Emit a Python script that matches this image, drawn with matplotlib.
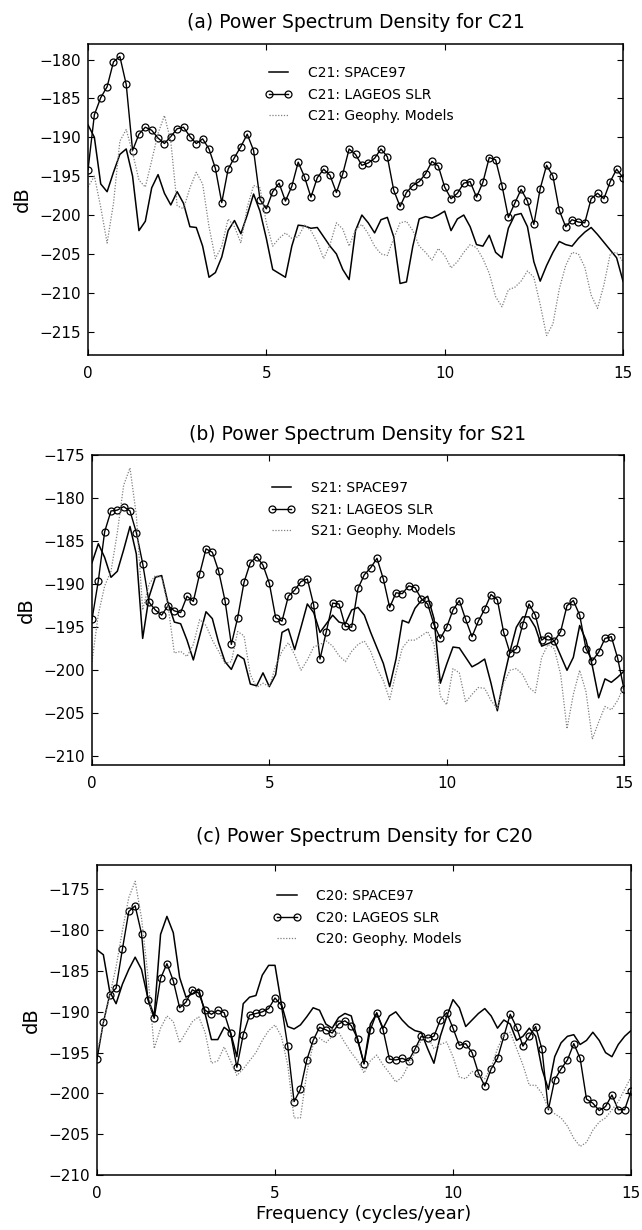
import numpy as np
import matplotlib.pyplot as plt

plt.rcParams['font.family'] = ['DejaVu Sans']

# frequency bins (cycles/year), evenly spaced from 0 to 15
freq = np.linspace(0, 15, 85)

# ---- (a) C21 ----
a_space97 = [-188.4, -190.0, -196.0, -197.0, -194.5, -192.2, -191.5, -195.0, -202.0, -200.8,
             -196.5, -194.8, -197.2, -198.7, -197.0, -198.5, -201.5, -201.6, -204.0, -208.0,
             -207.4, -205.4, -202.0, -200.7, -202.4, -200.0, -197.3, -199.5, -203.0, -207.0,
             -207.5, -208.0, -204.0, -201.3, -201.4, -201.7, -201.6, -202.8, -204.0, -205.0,
             -207.0, -208.3, -202.0, -200.0, -201.0, -202.3, -200.6, -200.3, -202.8, -208.8,
             -208.6, -204.0, -200.5, -200.2, -200.4, -200.0, -199.5, -202.0, -200.5, -200.0,
             -201.5, -203.8, -204.0, -202.6, -204.8, -205.5, -201.7, -200.0, -199.8, -201.5,
             -206.0, -208.5, -206.5, -204.8, -203.4, -203.8, -204.0, -203.0, -202.2, -201.6,
             -202.5, -203.5, -204.5, -205.5, -208.5]
a_lageos = [-194.2, -187.1, -184.9, -183.5, -180.3, -179.6, -183.2, -191.7, -189.6, -188.7,
            -189.1, -190.1, -190.8, -189.9, -188.9, -188.7, -189.9, -190.8, -190.2, -191.5,
            -194.0, -198.4, -194.1, -192.6, -191.2, -189.6, -191.7, -198.0, -199.2, -197.0,
            -195.9, -198.2, -196.3, -193.2, -195.1, -197.7, -195.2, -194.1, -194.9, -197.1,
            -194.7, -191.5, -192.2, -193.6, -193.3, -192.7, -191.5, -192.5, -196.8, -198.9,
            -197.1, -196.2, -195.7, -194.7, -193.1, -193.7, -196.4, -197.9, -197.2, -195.9,
            -195.7, -197.7, -195.8, -192.6, -192.9, -196.2, -200.3, -198.5, -196.7, -198.2,
            -201.2, -196.6, -193.6, -195.0, -199.4, -201.5, -200.6, -200.9, -201.0, -197.9,
            -197.2, -197.9, -195.7, -194.1, -195.2]
a_geophy = [-196.4, -195.0, -199.0, -203.6, -198.5, -190.5, -189.0, -192.0, -195.5, -196.4,
            -193.0, -189.5, -187.2, -190.5, -198.8, -199.2, -196.5, -194.5, -196.0, -201.5,
            -205.6, -204.0, -200.5, -201.5, -203.6, -199.0, -196.2, -196.5, -201.0, -204.0,
            -203.0, -202.3, -203.0, -202.8, -201.3, -202.0, -203.5, -205.6, -203.8, -201.0,
            -201.8, -204.0, -201.9, -201.2, -202.4, -204.0, -205.0, -205.2, -203.0, -201.0,
            -200.8, -202.0, -204.0, -204.8, -205.8, -204.3, -205.2, -206.8, -206.0, -204.8,
            -203.8, -204.2, -205.6, -207.5, -210.5, -211.8, -209.6, -209.3, -208.5, -207.2,
            -208.0, -211.5, -215.5, -214.0, -209.5, -206.5, -204.8, -205.0, -206.7, -210.3,
            -212.0, -209.0, -205.0, -204.8, -206.0]

# ---- (b) S21 ----
b_space97 = [-187.5, -185.3, -186.9, -189.2, -188.5, -186.0, -183.3, -186.5, -196.3, -191.5,
             -189.2, -189.0, -192.2, -194.4, -194.6, -196.5, -198.8, -196.0, -193.2, -194.0,
             -196.8, -199.0, -199.9, -198.2, -198.7, -201.6, -201.8, -200.3, -201.9, -200.5,
             -195.6, -195.2, -197.6, -195.0, -192.3, -193.3, -195.6, -194.6, -193.6, -194.4,
             -194.6, -193.0, -192.7, -193.6, -195.6, -197.4, -199.2, -201.9, -198.7, -194.2,
             -194.5, -192.8, -191.9, -191.4, -194.0, -201.5, -199.3, -197.3, -197.4, -198.5,
             -199.6, -199.2, -198.7, -201.5, -204.7, -201.0, -197.8, -195.0, -193.8, -193.8,
             -195.0, -197.2, -196.9, -196.6, -198.3, -200.0, -198.5, -194.8, -196.5, -199.5,
             -203.2, -201.0, -201.4, -200.8, -200.1]
b_lageos = [-194.1, -189.6, -183.9, -181.5, -181.4, -181.0, -181.5, -184.0, -187.6, -192.1,
            -193.0, -193.6, -192.5, -193.1, -193.3, -191.4, -192.0, -188.8, -185.9, -186.3,
            -188.5, -191.9, -197.0, -193.9, -189.8, -187.5, -186.8, -187.8, -189.9, -193.9,
            -194.3, -191.4, -190.7, -189.7, -189.4, -192.4, -198.7, -195.5, -192.2, -192.3,
            -194.9, -195.0, -190.5, -188.9, -188.1, -187.0, -189.4, -192.7, -191.0, -191.1,
            -190.2, -190.4, -191.7, -192.3, -194.7, -196.3, -195.0, -193.0, -191.9, -194.1,
            -196.1, -194.3, -192.9, -191.2, -191.8, -195.6, -198.0, -197.5, -194.7, -192.3,
            -193.6, -196.5, -196.0, -196.6, -195.5, -192.5, -191.9, -193.6, -197.5, -198.9,
            -197.9, -196.3, -196.1, -198.6, -202.2]
b_geophy = [-199.0, -193.5, -190.2, -188.5, -184.0, -178.5, -176.5, -182.0, -193.0, -190.0,
            -189.0, -189.2, -192.5, -198.0, -197.8, -198.4, -197.0, -194.1, -194.8, -196.5,
            -197.8, -199.2, -199.0, -195.5, -196.0, -200.5, -202.0, -201.5, -201.9, -199.5,
            -197.8, -196.8, -198.2, -200.0, -198.8, -197.3, -197.0, -196.6, -197.2, -198.3,
            -199.0, -197.8, -197.0, -196.6, -197.8, -199.8, -201.2, -203.4, -200.3, -197.4,
            -196.5, -196.5, -196.0, -195.5, -197.0, -203.0, -204.0, -199.8, -200.3, -203.7,
            -202.8, -202.0, -202.1, -203.5, -204.5, -201.5, -200.0, -199.8, -200.5, -202.0,
            -202.6, -198.5, -197.0, -197.5, -200.5, -206.8, -202.8, -200.0, -202.5, -208.0,
            -206.0, -204.2, -204.6, -203.5, -201.8]

# ---- (c) C20 ----
c_space97 = [-182.4, -183.0, -187.5, -189.0, -186.6, -184.8, -183.3, -184.8, -188.3, -190.5,
             -180.5, -178.3, -180.3, -185.8, -188.2, -187.8, -187.2, -190.2, -193.4, -193.4,
             -191.9, -192.5, -195.5, -189.0, -188.2, -188.0, -185.5, -184.3, -184.3, -189.0,
             -191.8, -192.1, -191.6, -190.6, -189.5, -189.8, -191.5, -192.0, -190.7, -190.2,
             -190.5, -193.5, -196.3, -191.5, -190.2, -192.0, -190.5, -190.0, -191.0, -191.8,
             -192.3, -192.5, -194.5, -196.3, -193.0, -190.6, -188.5, -189.5, -191.8, -191.0,
             -190.2, -189.6, -190.5, -192.0, -191.0, -191.5, -193.5, -193.0, -192.0, -193.0,
             -197.0, -199.5, -195.5, -193.8, -193.0, -192.8, -194.0, -193.5, -192.5, -193.5,
             -195.0, -195.5, -194.0, -193.0, -192.3]
c_lageos = [-195.8, -191.3, -187.9, -187.1, -182.3, -177.7, -177.0, -180.4, -188.5, -190.8,
            -185.9, -184.1, -186.2, -189.5, -188.8, -187.3, -187.7, -189.8, -190.3, -189.8,
            -190.1, -192.6, -196.8, -192.8, -190.4, -190.2, -190.0, -189.6, -188.3, -189.2,
            -194.2, -201.0, -199.5, -195.9, -193.5, -191.9, -192.2, -192.6, -191.5, -191.1,
            -191.7, -193.3, -196.4, -192.2, -190.1, -192.2, -195.8, -195.9, -195.7, -196.0,
            -194.6, -193.0, -193.2, -193.0, -191.0, -190.1, -192.0, -194.1, -193.9, -195.0,
            -197.5, -199.1, -197.0, -195.7, -193.0, -190.3, -191.9, -194.2, -193.0, -191.8,
            -194.6, -202.0, -198.3, -197.0, -195.9, -193.9, -195.7, -200.7, -201.2, -202.1,
            -201.6, -200.2, -202.0, -202.0, -199.7]
c_geophy = [-195.0, -191.5, -188.0, -184.5, -180.0, -176.0, -174.0, -178.5, -185.5, -194.5,
            -192.0, -190.5, -191.2, -193.8, -192.5, -191.2, -190.6, -192.5, -196.3, -196.0,
            -194.3, -196.0, -197.8, -197.0, -196.0, -195.0, -193.5, -192.3, -191.6, -193.0,
            -196.5, -203.0, -203.0, -197.5, -194.0, -193.2, -193.8, -193.0, -192.5, -193.8,
            -195.0, -196.0, -197.5, -196.0, -195.3, -196.5, -197.5, -198.6, -198.0, -196.5,
            -195.0, -193.5, -193.0, -194.5, -194.0, -193.7, -195.5, -198.0, -198.2, -197.3,
            -197.8, -198.2, -196.8, -194.5, -192.8, -192.5, -194.5, -196.5, -199.0, -199.0,
            -200.0, -201.8, -202.5, -203.0, -204.0, -205.5, -206.5, -206.0, -204.5, -203.5,
            -203.0, -202.0, -201.0, -199.5, -198.0]

panels = [
    ('(a) Power Spectrum Density for C21', 'C21', a_space97, a_lageos, a_geophy,
     (88, 44, 623, 355), (-218, -178), np.arange(-215, -179, 5), 22, 0.929),
    ('(b) Power Spectrum Density for S21', 'S21', b_space97, b_lageos, b_geophy,
     (92, 455, 624, 765), (-211, -175), np.arange(-210, -174, 5), 435, 0.916),
    ('(c) Power Spectrum Density for C20', 'C20', c_space97, c_lageos, c_geophy,
     (97, 865, 631, 1175), (-210, -172), np.arange(-210, -174, 5), 837, 0.923),
]

W, H = 642, 1230
fig = plt.figure(figsize=(W / 100, H / 100), dpi=100)

for title, name, sp, lg, gp, box, ylim, yticks, ty, leg_y in panels:
    left, top, right, bottom = box
    ax = fig.add_axes([left / W, 1 - bottom / H, (right - left) / W, (bottom - top) / H])
    ax.plot(freq, sp, color='black', lw=1.1, label=name + ': SPACE97')
    ax.plot(freq, lg, color='black', lw=1.0, marker='o', ms=5, mfc='none', mew=0.9,
            label=name + ': LAGEOS SLR')
    ax.plot(freq, gp, color='#808080', lw=0.9, ls=(0, (1, 1.3)),
            label=name + ': Geophy. Models')
    ax.set_xlim(0, 15)
    ax.set_ylim(*ylim)
    ax.set_xticks([0, 5, 10, 15])
    ax.set_yticks(yticks)
    ax.tick_params(direction='in', top=True, right=True, length=4, labelsize=11)
    ax.tick_params(axis='x', pad=8)
    ax.tick_params(axis='y', pad=5)
    for s in ax.spines.values():
        s.set_linewidth(1.1)
    ax.set_ylabel('dB', fontsize=14, labelpad=5)
    ax.legend(loc='upper left', bbox_to_anchor=(0.33, leg_y), frameon=False,
              fontsize=10, numpoints=2, handlelength=2.0, handletextpad=1.1,
              labelspacing=0.55, borderpad=0, borderaxespad=0)
    fig.text((left + right) / 2 / W, 1 - ty / H, title, ha='center', va='center',
             fontsize=13.5)

fig.text((97 + 631) / 2 / W, 1 - 1214 / H, 'Frequency (cycles/year)', ha='center',
         va='center', fontsize=13)

fig.savefig('out.png', dpi=100)
